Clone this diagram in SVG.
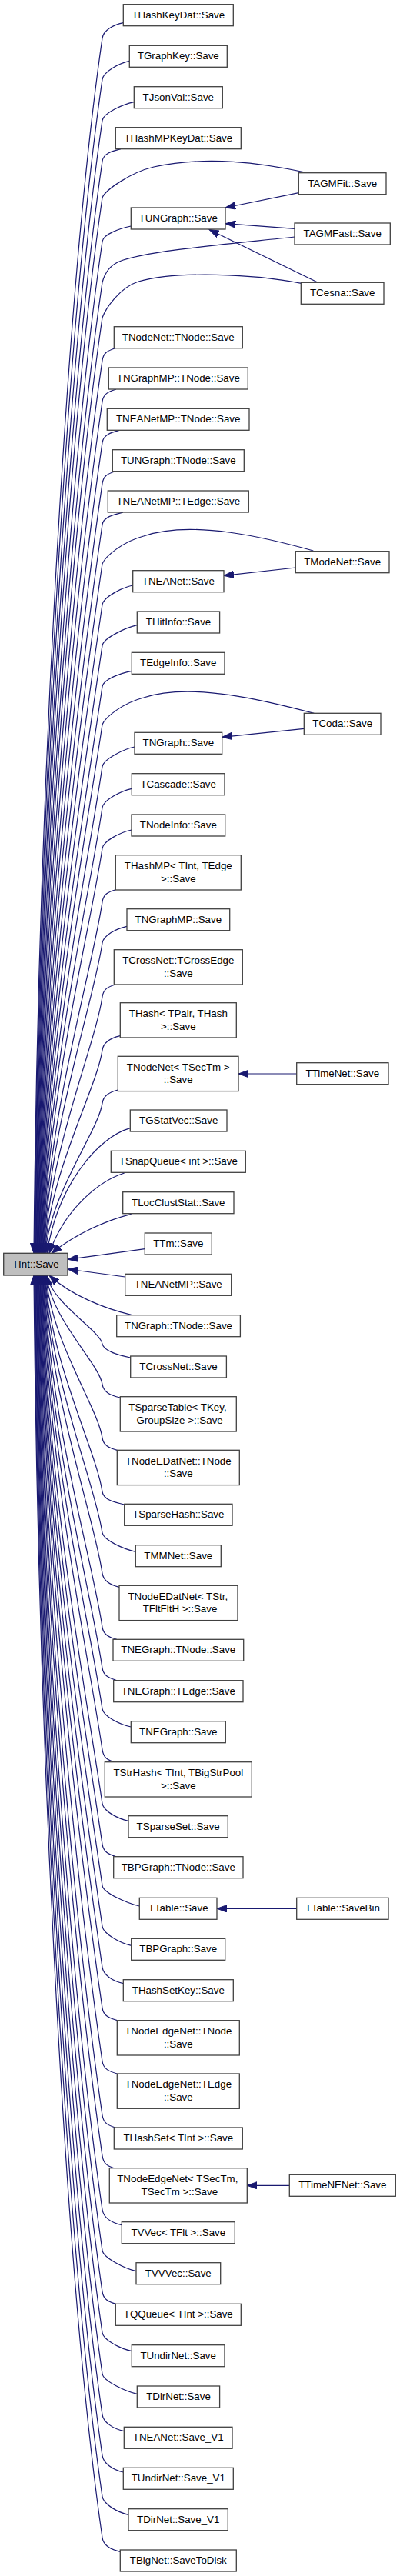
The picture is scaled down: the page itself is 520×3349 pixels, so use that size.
<svg xmlns="http://www.w3.org/2000/svg" width="520" height="3349" viewBox="0 0 520 3349">
<style>
.n rect{fill:#ffffff;stroke:#404040;stroke-width:1.3}
.n.cur rect{fill:#bfbfbf}
text{font-family:"Liberation Sans",Arial,Helvetica,sans-serif;font-size:13.33px;text-anchor:middle;fill:#000000}
.e path{fill:none;stroke:#191970;stroke-width:1.2;marker-end:url(#ah)}
</style>
<defs>
<marker id="ah" markerUnits="userSpaceOnUse" viewBox="0 -5 14 10" markerWidth="14" markerHeight="10" refX="13" refY="0" orient="auto">
<path d="M0,-4.67L13,0L0,4.67z" fill="#191970" stroke="#191970" stroke-width="1"/>
</marker>
</defs>
<rect x="0" y="0" width="520" height="3349" fill="#ffffff"/>
<g id="edges" class="e">
<path d="M160.3,29.7 C146.3,32.7 134.5,39.7 133,49.7 C89.4,349.8 50,997.5 44,1629.3"/>
<path d="M168.3,79.3 C154.3,82.3 134.5,93.3 133,103.3 C90.9,393.2 50.6,1018.9 44.6,1629.3"/>
<path d="M174.3,132.7 C160.3,135.7 134.5,146.7 133,156.7 C92.4,436.5 51.2,1040.3 45.2,1629.3"/>
<path d="M157,193.7 C145,196.7 134.5,199.7 133,209.7 C93.8,479.4 51.8,1061.5 45.8,1629.3"/>
<path d="M396.7,224 C340,212 270,202 200,217 C170,224 137,247 133,257 C95.1,517.7 52.4,1080.4 46.4,1629.3"/>
<path d="M170.3,294 C156.3,297 134.5,304 133,314 C96.7,563.9 53,1103.2 47,1629.3"/>
<path d="M383,308 C300,317 190,326 155,340 C143,345 136,356 133,367 C98.2,606.8 53.6,1124.4 47.6,1629.3"/>
<path d="M391.7,368.3 C330,356 230,352 180,366 C155,374 137,402 133,413 C99.4,644.1 54.2,1142.8 48.2,1629.3"/>
<path d="M150,452.7 C140,455.7 134.5,458.7 133,468.7 C101,689.2 54.8,1165.1 48.8,1629.3"/>
<path d="M151,506 C141,509 134.5,512 133,522 C102.4,732.4 55.4,1186.4 49.4,1629.3"/>
<path d="M155,559.3 C144,562.3 134.5,565.3 133,575.3 C103.9,775.6 56,1207.7 50,1629.3"/>
<path d="M150,612.7 C140,615.7 134.5,618.7 133,628.7 C105.4,818.8 56.6,1229.1 50.6,1629.3"/>
<path d="M160,666 C148,669 134.5,672 133,682 C106.9,862 57.2,1250.4 51.2,1629.3"/>
<path d="M407.3,716 C350,700 250,675 186.7,697 C160,704 137,723 133,733 C108.3,903.3 57.8,1270.8 51.8,1629.3"/>
<path d="M172.7,761 C158.7,764 134.5,776 133,786 C109.7,946.2 58.4,1292 52.4,1629.3"/>
<path d="M178.3,812.7 C164.3,815.7 134.5,829.3 133,839.3 C111.2,989.4 59,1313.3 53,1629.3"/>
<path d="M171.3,872.3 C157.3,875.3 134.5,882.7 133,892.7 C112.7,1032.7 59.6,1334.7 53.6,1629.3"/>
<path d="M408.3,927.3 C350,912 250,886 186.7,907 C160,914 137,932 133,942 C114,1072.6 60.2,1354.4 54.2,1629.3"/>
<path d="M175,971 C161,974 134.5,986.7 133,996.7 C115.5,1116.9 60.8,1376.3 54.8,1629.3"/>
<path d="M171.3,1025.3 C157.3,1028.3 134.5,1040 133,1050 C117,1160.1 61.4,1397.6 55.4,1629.3"/>
<path d="M171,1079 C157,1082 134.5,1093 133,1103 C118.5,1203 62,1418.8 56,1629.3"/>
<path d="M150.3,1156.7 C140.3,1159.7 134.5,1162.7 133,1172.7 C120.4,1259.5 62.6,1446.7 56.6,1629.3"/>
<path d="M165,1204.3 C151,1207.3 134.5,1216 133,1226 C121.9,1302.6 63.2,1468 57.2,1629.3"/>
<path d="M150,1280 C140,1283 134.5,1286 133,1296 C123.8,1359.3 63.8,1496 57.8,1629.3"/>
<path d="M156.3,1346.7 C143,1349.7 134.5,1355.3 133,1365.3 C125.7,1415.5 64.4,1523.7 58.4,1629.3"/>
<path d="M153.3,1417 C142,1420 134.5,1424.3 133,1434.3 C127.6,1471.3 65,1551.3 59,1629.3"/>
<path d="M169.3,1466.7 C128,1478 75,1540 61,1629.3"/>
<path d="M161.7,1525 C130,1535 85,1570 64,1629.3"/>
<path d="M170.7,1578.3 C140,1586 100,1603 67,1629.3"/>
<path d="M188.3,1623.7 L88.3,1637.3"/>
<path d="M162.7,1660 L88.3,1650"/>
<path d="M170.7,1709.3 C138,1702 92,1684 64,1658"/>
<path d="M169.7,1765 C155.7,1762 134.5,1757 133,1747 C130.5,1730.1 67,1693.6 61,1658"/>
<path d="M156.3,1817 C143,1814 134.5,1809.7 133,1799.7 C129.1,1772.8 66.4,1714.7 60.4,1658"/>
<path d="M152.3,1885.3 C142,1882.3 134.5,1879.3 133,1869.3 C127.2,1829.2 65.8,1742.5 59.8,1658"/>
<path d="M161.7,1956 C147.7,1953 134.5,1949.3 133,1939.3 C125.2,1885.9 65.1,1770.5 59.1,1658"/>
<path d="M176.3,2017.3 C162.3,2014.3 134.5,2002.7 133,1992.7 C123.8,1929.1 64.5,1791.9 58.5,1658"/>
<path d="M155,2063.3 C143,2060.3 134.5,2055.3 133,2045.3 C122.3,1971.7 63.9,1812.9 57.9,1658"/>
<path d="M151.7,2131.3 C141.7,2128.3 134.5,2125.3 133,2115.3 C120.4,2028.4 63.2,1840.9 57.2,1658"/>
<path d="M152,2184.7 C142,2181.7 134.5,2178.7 133,2168.7 C118.9,2071.7 62.6,1862.3 56.6,1658"/>
<path d="M170.3,2245 C156.3,2242 134.5,2231.7 133,2221.7 C117.4,2114.6 62,1883.5 56,1658"/>
<path d="M148.3,2290.7 C139,2287.7 134.5,2284.7 133,2274.7 C116,2157.5 61.3,1904.7 55.3,1658"/>
<path d="M167,2367.3 C153,2364.3 134.5,2354.7 133,2344.7 C114,2214.2 60.7,1932.7 54.7,1658"/>
<path d="M151,2413.7 C141,2410.7 134.5,2407.7 133,2397.7 C112.6,2257.2 60.1,1953.9 54.1,1658"/>
<path d="M181.3,2478 C167.3,2475 134.5,2461.3 133,2451.3 C111.1,2300.6 59.5,1975.3 53.5,1658"/>
<path d="M170.7,2529.3 C156.7,2526.3 134.5,2514.3 133,2504.3 C109.6,2343.5 58.8,1996.5 52.8,1658"/>
<path d="M160.3,2578.7 C146.3,2575.7 134.5,2567.7 133,2557.7 C108.2,2386.8 58.2,2017.9 52.2,1658"/>
<path d="M152.3,2626.7 C142,2623.7 134.5,2620.7 133,2610.7 C106.7,2429.7 57.6,2039.1 51.6,1658"/>
<path d="M152.3,2696 C142,2693 134.5,2690 133,2680 C104.8,2485.8 56.9,2066.8 50.9,1658"/>
<path d="M150,2766 C140,2763 134.5,2760 133,2750 C102.9,2542.5 56.3,2094.8 50.3,1658"/>
<path d="M148.3,2818.7 C139,2815.7 134.5,2812.7 133,2802.7 C101.4,2585.2 55.7,2115.9 49.7,1658"/>
<path d="M158.3,2892.7 C144.3,2889.7 134.5,2882.7 133,2872.7 C99.5,2641.9 55,2143.9 49,1658"/>
<path d="M177,2952.7 C163,2949.7 134.5,2935.7 133,2925.7 C98,2684.8 54.4,2165.1 48.4,1658"/>
<path d="M150.7,2995.3 C140.7,2992.3 134.5,2989.3 133,2979.3 C96.5,2728.3 53.8,2186.5 47.8,1658"/>
<path d="M171.3,3056.7 C157.3,3053.7 134.5,3042.7 133,3032.7 C95.1,2771.5 53.2,2207.9 47.2,1658"/>
<path d="M178.3,3112.3 C164.3,3109.3 134.5,3096 133,3086 C93.6,2814.7 52.5,2229.2 46.5,1658"/>
<path d="M161.3,3160.7 C147.3,3157.7 134.5,3149.3 133,3139.3 C92.1,2857.9 51.9,2250.5 45.9,1658"/>
<path d="M160.3,3214 C146.3,3211 134.5,3202.3 133,3192.3 C90.7,2900.8 51.3,2271.7 45.3,1658"/>
<path d="M167,3269.3 C153,3266.3 134.5,3255.7 133,3245.7 C89.2,2944 50.6,2293.1 44.6,1658"/>
<path d="M156.3,3317.3 C142.3,3314.3 134.5,3309 133,3299 C87.7,2987.2 50,2314.4 44,1658"/>
<path d="M388.3,250.7 L293,270"/>
<path d="M383,297.3 L293.3,290.7"/>
<path d="M413.3,367.3 L272,298.5"/>
<path d="M384.3,738 L291,748.3"/>
<path d="M395.3,947.3 L288.7,958.3"/>
<path d="M385.7,1396 L310,1396"/>
<path d="M385.7,2481.3 L282,2481.3"/>
<path d="M376.3,2841.3 L321.3,2841.3"/>
</g>
<g id="n_THashKeyDat" class="n"><rect x="160.3" y="5.7" width="143" height="28"/><text x="231.8" y="23.7">THashKeyDat::Save</text></g>
<g id="n_TGraphKey" class="n"><rect x="168.3" y="59.3" width="127" height="28"/><text x="231.8" y="77.3">TGraphKey::Save</text></g>
<g id="n_TJsonVal" class="n"><rect x="174.3" y="112.7" width="115" height="28"/><text x="231.8" y="130.7">TJsonVal::Save</text></g>
<g id="n_THashMPKeyDat" class="n"><rect x="150.3" y="165.7" width="163" height="28"/><text x="231.8" y="183.7">THashMPKeyDat::Save</text></g>
<g id="n_TAGMFit" class="n"><rect x="388.3" y="224.7" width="113.7" height="28"/><text x="445.2" y="242.7">TAGMFit::Save</text></g>
<g id="n_TUNGraph" class="n"><rect x="170.3" y="270" width="122.7" height="28"/><text x="231.7" y="288">TUNGraph::Save</text></g>
<g id="n_TAGMFast" class="n"><rect x="383" y="290" width="124.3" height="28"/><text x="445.2" y="308">TAGMFast::Save</text></g>
<g id="n_TCesna" class="n"><rect x="391.3" y="367.3" width="107.7" height="28"/><text x="445.2" y="385.3">TCesna::Save</text></g>
<g id="n_TNodeNet_TNode" class="n"><rect x="148.3" y="424.7" width="167" height="28"/><text x="231.8" y="442.7">TNodeNet::TNode::Save</text></g>
<g id="n_TNGraphMP_TNode" class="n"><rect x="141.3" y="478" width="181" height="28"/><text x="231.8" y="496">TNGraphMP::TNode::Save</text></g>
<g id="n_TNEANetMP_TNode" class="n"><rect x="139.3" y="531.3" width="184.7" height="28"/><text x="231.7" y="549.3">TNEANetMP::TNode::Save</text></g>
<g id="n_TUNGraph_TNode" class="n"><rect x="146.3" y="584.7" width="171" height="28"/><text x="231.8" y="602.7">TUNGraph::TNode::Save</text></g>
<g id="n_TNEANetMP_TEdge" class="n"><rect x="140.3" y="638" width="183" height="28"/><text x="231.8" y="656">TNEANetMP::TEdge::Save</text></g>
<g id="n_TModeNet" class="n"><rect x="384.3" y="716.7" width="121.7" height="28"/><text x="445.2" y="734.7">TModeNet::Save</text></g>
<g id="n_TNEANet" class="n"><rect x="172.7" y="741.7" width="118.3" height="28"/><text x="231.8" y="759.7">TNEANet::Save</text></g>
<g id="n_THitInfo" class="n"><rect x="178.3" y="795" width="107.3" height="28"/><text x="232" y="813">THitInfo::Save</text></g>
<g id="n_TEdgeInfo" class="n"><rect x="171.3" y="848.3" width="120.7" height="28"/><text x="231.7" y="866.3">TEdgeInfo::Save</text></g>
<g id="n_TCoda" class="n"><rect x="395.3" y="927.3" width="99.7" height="28"/><text x="445.2" y="945.3">TCoda::Save</text></g>
<g id="n_TNGraph" class="n"><rect x="175" y="952.3" width="113.7" height="28"/><text x="231.8" y="970.3">TNGraph::Save</text></g>
<g id="n_TCascade" class="n"><rect x="171.3" y="1005.7" width="120.7" height="28"/><text x="231.7" y="1023.7">TCascade::Save</text></g>
<g id="n_TNodeInfo" class="n"><rect x="171" y="1059" width="121.7" height="28"/><text x="231.8" y="1077">TNodeInfo::Save</text></g>
<g id="n_THashMP" class="n"><rect x="150.3" y="1111.7" width="163" height="45.3"/><text x="231.8" y="1130">THashMP&lt; TInt, TEdge</text><text x="231.8" y="1146.7">&gt;::Save</text></g>
<g id="n_TNGraphMP" class="n"><rect x="165" y="1181.7" width="133.7" height="28"/><text x="231.8" y="1199.7">TNGraphMP::Save</text></g>
<g id="n_TCrossEdge" class="n"><rect x="148.3" y="1234.7" width="167" height="45.3"/><text x="231.8" y="1253">TCrossNet::TCrossEdge</text><text x="231.8" y="1269.7">::Save</text></g>
<g id="n_THashPair" class="n"><rect x="156.3" y="1303.7" width="151" height="45.3"/><text x="231.8" y="1322">THash&lt; TPair, THash</text><text x="231.8" y="1338.7">&gt;::Save</text></g>
<g id="n_TNodeNetSecTm" class="n"><rect x="153.3" y="1373.3" width="156.7" height="45.3"/><text x="231.7" y="1391.7">TNodeNet&lt; TSecTm &gt;</text><text x="231.7" y="1408.3">::Save</text></g>
<g id="n_TTimeNet" class="n"><rect x="385.7" y="1381.7" width="119.3" height="28"/><text x="445.3" y="1399.7">TTimeNet::Save</text></g>
<g id="n_TGStatVec" class="n"><rect x="169.3" y="1443" width="125.7" height="28"/><text x="232.2" y="1461">TGStatVec::Save</text></g>
<g id="n_TSnapQueue" class="n"><rect x="144.3" y="1496.3" width="175" height="28"/><text x="231.8" y="1514.3">TSnapQueue&lt; int &gt;::Save</text></g>
<g id="n_TLocClustStat" class="n"><rect x="159.7" y="1549.7" width="144.3" height="28"/><text x="231.8" y="1567.7">TLocClustStat::Save</text></g>
<g id="n_TTm" class="n"><rect x="188.3" y="1603" width="87" height="28"/><text x="231.8" y="1621">TTm::Save</text></g>
<g id="n_TInt" class="n cur"><rect x="4.7" y="1629.3" width="83.3" height="28.7"/><text x="46.3" y="1647.7">TInt::Save</text></g>
<g id="n_TNEANetMP" class="n"><rect x="162.7" y="1656.3" width="138" height="28"/><text x="231.7" y="1674.3">TNEANetMP::Save</text></g>
<g id="n_TNGraph_TNode" class="n"><rect x="151.7" y="1709.7" width="160.7" height="28"/><text x="232" y="1727.7">TNGraph::TNode::Save</text></g>
<g id="n_TCrossNet" class="n"><rect x="169.7" y="1763" width="124.7" height="28"/><text x="232" y="1781">TCrossNet::Save</text></g>
<g id="n_TSparseTable" class="n"><rect x="156.3" y="1815.7" width="151" height="45.3"/><text x="231" y="1834">TSparseTable&lt; TKey,</text><text x="233.6" y="1850.7">GroupSize &gt;::Save</text></g>
<g id="n_TNodeEDatNet_TNode" class="n"><rect x="152.3" y="1885.3" width="159" height="45.3"/><text x="231.8" y="1903.7">TNodeEDatNet::TNode</text><text x="231.8" y="1920.3">::Save</text></g>
<g id="n_TSparseHash" class="n"><rect x="161.7" y="1955.3" width="140.3" height="28"/><text x="231.8" y="1973.3">TSparseHash::Save</text></g>
<g id="n_TMMNet" class="n"><rect x="176.3" y="2008.7" width="111" height="28"/><text x="231.8" y="2026.7">TMMNet::Save</text></g>
<g id="n_TNodeEDatNetStr" class="n"><rect x="155" y="2061.3" width="154" height="45.3"/><text x="231.3" y="2079.7">TNodeEDatNet&lt; TStr,</text><text x="234" y="2096.3">TFltFltH &gt;::Save</text></g>
<g id="n_TNEGraph_TNode" class="n"><rect x="147" y="2131.3" width="169.7" height="28"/><text x="231.8" y="2149.3">TNEGraph::TNode::Save</text></g>
<g id="n_TNEGraph_TEdge" class="n"><rect x="147.7" y="2184.7" width="168.3" height="28"/><text x="231.8" y="2202.7">TNEGraph::TEdge::Save</text></g>
<g id="n_TNEGraph" class="n"><rect x="170.3" y="2237.7" width="123" height="28"/><text x="231.8" y="2255.7">TNEGraph::Save</text></g>
<g id="n_TStrHash" class="n"><rect x="136.3" y="2290.7" width="191" height="45.3"/><text x="231.8" y="2309">TStrHash&lt; TInt, TBigStrPool</text><text x="231.8" y="2325.7">&gt;::Save</text></g>
<g id="n_TSparseSet" class="n"><rect x="167" y="2360.7" width="129.3" height="28"/><text x="231.7" y="2378.7">TSparseSet::Save</text></g>
<g id="n_TBPGraph_TNode" class="n"><rect x="147.7" y="2413.7" width="168.3" height="28"/><text x="231.8" y="2431.7">TBPGraph::TNode::Save</text></g>
<g id="n_TTable" class="n"><rect x="181.3" y="2467.3" width="100.7" height="28"/><text x="231.7" y="2485.3">TTable::Save</text></g>
<g id="n_TTableSaveBin" class="n"><rect x="385.7" y="2467.3" width="119.3" height="28"/><text x="445.3" y="2485.3">TTable::SaveBin</text></g>
<g id="n_TBPGraph" class="n"><rect x="170.7" y="2520.3" width="122" height="28"/><text x="231.7" y="2538.3">TBPGraph::Save</text></g>
<g id="n_THashSetKey" class="n"><rect x="160.3" y="2573.7" width="143" height="28"/><text x="231.8" y="2591.7">THashSetKey::Save</text></g>
<g id="n_TNodeEdgeNet_TNode" class="n"><rect x="152.3" y="2626.7" width="159" height="45.3"/><text x="231.8" y="2645">TNodeEdgeNet::TNode</text><text x="231.8" y="2661.7">::Save</text></g>
<g id="n_TNodeEdgeNet_TEdge" class="n"><rect x="152.3" y="2696" width="159" height="45.3"/><text x="231.8" y="2714.3">TNodeEdgeNet::TEdge</text><text x="231.8" y="2731">::Save</text></g>
<g id="n_THashSetInt" class="n"><rect x="148.3" y="2766" width="167" height="28"/><text x="231.8" y="2784">THashSet&lt; TInt &gt;::Save</text></g>
<g id="n_TNodeEdgeNetSecTm" class="n"><rect x="142.3" y="2818.7" width="179" height="45.3"/><text x="230.8" y="2837">TNodeEdgeNet&lt; TSecTm,</text><text x="233.3" y="2853.7">TSecTm &gt;::Save</text></g>
<g id="n_TTimeNENet" class="n"><rect x="376.3" y="2827.3" width="138" height="28"/><text x="445.3" y="2845.3">TTimeNENet::Save</text></g>
<g id="n_TVVecFlt" class="n"><rect x="158.3" y="2888.7" width="147" height="28"/><text x="231.8" y="2906.7">TVVec&lt; TFlt &gt;::Save</text></g>
<g id="n_TVVVec" class="n"><rect x="177" y="2941.7" width="109.7" height="28"/><text x="231.8" y="2959.7">TVVVec::Save</text></g>
<g id="n_TQQueue" class="n"><rect x="150.3" y="2995.3" width="163" height="28"/><text x="231.8" y="3013.3">TQQueue&lt; TInt &gt;::Save</text></g>
<g id="n_TUndirNet" class="n"><rect x="171.3" y="3048.7" width="120.7" height="28"/><text x="231.7" y="3066.7">TUndirNet::Save</text></g>
<g id="n_TDirNet" class="n"><rect x="178.3" y="3102" width="107.3" height="28"/><text x="232" y="3120">TDirNet::Save</text></g>
<g id="n_TNEANet_V1" class="n"><rect x="161.3" y="3155.3" width="140.7" height="28"/><text x="231.7" y="3173.3">TNEANet::Save_V1</text></g>
<g id="n_TUndirNet_V1" class="n"><rect x="160.3" y="3208.3" width="143" height="28"/><text x="231.8" y="3226.3">TUndirNet::Save_V1</text></g>
<g id="n_TDirNet_V1" class="n"><rect x="167" y="3261.7" width="129.3" height="28"/><text x="231.7" y="3279.7">TDirNet::Save_V1</text></g>
<g id="n_TBigNet" class="n"><rect x="156.3" y="3315" width="151" height="28"/><text x="231.8" y="3333">TBigNet::SaveToDisk</text></g>
</svg>
